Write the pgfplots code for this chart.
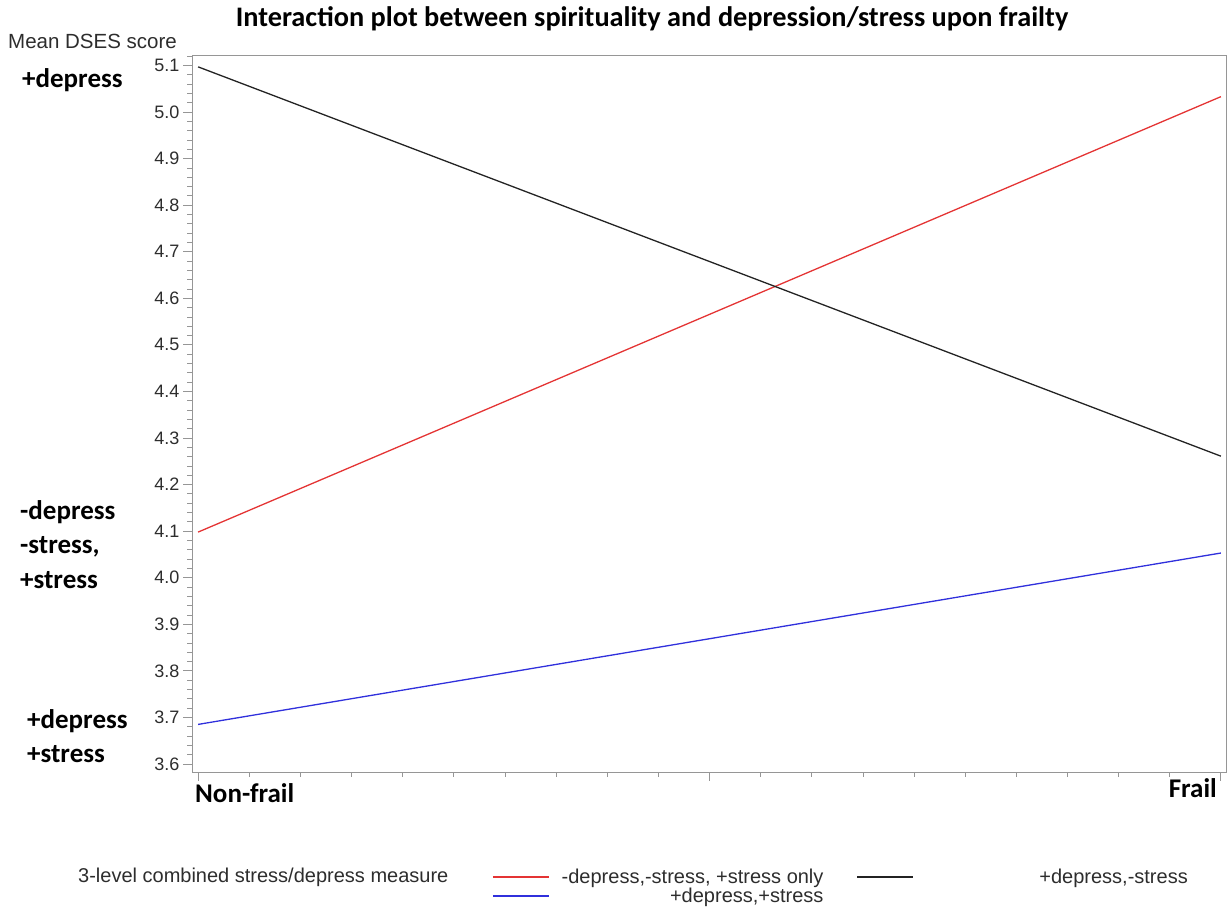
\documentclass[border=0pt]{standalone}
\usepackage{pgfplots}
\pgfplotsset{compat=1.18}
\usepackage{fontspec}
\setmainfont{Liberation Sans}
\newfontfamily\calb{Carlito}
\definecolor{redl}{RGB}{228,52,52}
\definecolor{bluel}{RGB}{48,48,220}
\definecolor{blackl}{RGB}{35,35,35}
\definecolor{framec}{RGB}{150,150,150}
\definecolor{tickc}{RGB}{45,45,45}
\pgfplotsset{
  legend image code/.code={\draw[#1] (0pt,0pt) -- (56pt,0pt);},
}
\begin{document}
\begin{tikzpicture}[x=1pt,y=1pt]
\path[use as bounding box] (0,0) rectangle (1228,909);
\begin{axis}[
  at={(192pt,137pt)}, anchor=south west,
  scale only axis, width=1034pt, height=717pt,
  xmin=-0.006, xmax=1.005, ymin=3.5828, ymax=5.1225,
  xtick={0,0.5,1}, xticklabels={},
  minor x tick num=9,
  ytick={3.6,3.7,...,5.15},
  minor y tick num=4,
  tick align=outside,
  major tick length=9pt, minor tick length=5pt,
  every tick/.style={framec, line width=0.8pt},
  axis line style={framec, line width=0.8pt},
  tick pos=left,
  /pgf/number format/assume math mode=true,
  y tick label style={/pgf/number format/.cd, fixed, fixed zerofill, precision=1, /tikz/.cd,
     font=\fontsize{18}{18}\selectfont, text=tickc},
  legend columns=2,
  legend cell align=right,
  legend style={draw=none, fill=none, at={(0.2901,-0.135)}, anchor=north west,
     inner sep=0pt, font=\fontsize{20}{20}\selectfont,
     nodes={inner sep=0pt}, column sep=14pt, row sep=3pt,
     /tikz/every even column/.append style={column sep=33pt}},
]
\addplot[color=redl, line width=1.3pt] coordinates {(0,4.098) (1,5.033)};
\addlegendentry{\textcolor{tickc}{\makebox[260pt][r]{-depress,-stress, +stress only}}}
\addplot[color=blackl, line width=1.3pt] coordinates {(0,5.097) (1,4.261)};
\addlegendentry{\textcolor{tickc}{\makebox[260pt][r]{+depress,-stress}}}
\addplot[color=bluel, line width=1.3pt] coordinates {(0,3.685) (1,4.053)};
\addlegendentry{\textcolor{tickc}{\makebox[260pt][r]{+depress,+stress}}}
\end{axis}
\node[anchor=base, font=\calb\bfseries\fontsize{28.3}{28.3}\selectfont] at (652,882) {Interaction plot between spirituality and depression/stress upon frailty};
\node[anchor=base west, inner sep=0pt, text=tickc, font=\fontsize{20.5}{20.5}\selectfont] at (8,860) {Mean DSES score};
\begin{scope}[every node/.style={anchor=base west, inner sep=0pt, font=\calb\bfseries\fontsize{27}{27}\selectfont}]
\node at (22,821) {+depress};
\node at (20,389) {-depress};
\node at (20,355) {-stress,};
\node at (20,320) {+stress};
\node at (27,180) {+depress};
\node at (27,146) {+stress};
\node at (195,106) {Non-frail};
\node[anchor=base east] at (1217,111) {Frail};
\end{scope}
\node[anchor=base west, inner sep=0pt, text=tickc, font=\fontsize{20}{20}\selectfont] at (78,26) {3-level combined stress/depress measure};
\end{tikzpicture}
\end{document}
